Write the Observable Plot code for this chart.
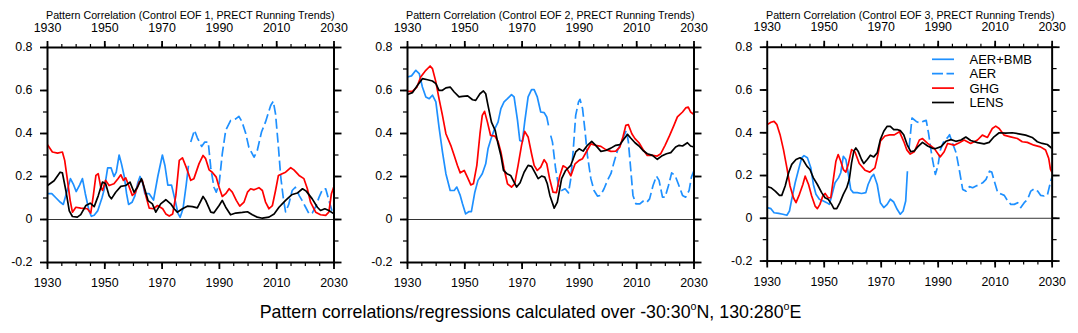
<!DOCTYPE html>
<html><head><meta charset="utf-8">
<script src="https://cdn.jsdelivr.net/npm/d3@7"></script>
<script src="https://cdn.jsdelivr.net/npm/@observablehq/plot@0.6"></script>
<style>
body{margin:0;background:#fff;font-family:"Liberation Sans",Arial,Helvetica,sans-serif;}
#wrap{position:relative;width:1078px;height:333px;overflow:hidden;background:#fff}
.panel{position:absolute;top:0}
.title{position:absolute;top:8.7px;width:400px;text-align:center;font-size:10.7px;line-height:12px;white-space:nowrap;color:#000}
.caption{position:absolute;top:301.5px;left:0;width:1061px;text-align:center;font-size:17.8px;line-height:20px;white-space:nowrap;color:#000}
.sup{font-size:0.6em;position:relative;top:-0.75em}
#legend{position:absolute;left:0;top:0}
</style>
</head><body>
<div id="wrap"></div>
<script>
// ---------- tick labels / axis values ----------
const xMajor = [1930, 1950, 1970, 1990, 2010, 2030];
const xMinor = [1930,1935,1940,1945,1950,1955,1960,1965,1970,1975,1980,1985,1990,1995,2000,2005,2010,2015,2020,2025,2030];
const yMajor = [-0.2, 0, 0.2, 0.4, 0.6, 0.8];
const yMinor = [-0.2,-0.1,0,0.1,0.2,0.3,0.4,0.5,0.6,0.7,0.8];

const titles = [
  "Pattern Correlation (Control EOF 1, PRECT Running Trends)",
  "Pattern Correlation (Control EOF 2, PRECT Running Trends)",
  "Pattern Correlation (Control EOF 3, PRECT Running Trends)"
];
const seriesNames = ["AER+BMB", "AER", "GHG", "LENS"];
const seriesColors = ["#1E90FF", "#1E90FF", "#FF0000", "#000000"];
const seriesDash = [null, "10,4", null, null];

// ---------- EOF 1 ----------
const eof1_aerbmb = [[1930,0.12],[1931.5,0.12],[1933,0.1],[1934.5,0.08],[1935.5,0.07],[1937.2,0.15],[1938,0.19],[1939,0.165],[1940,0.13],[1941.2,0.16],[1942.2,0.19],[1943.2,0.12],[1944.5,0.04],[1945.3,0.015],[1946.3,0.02],[1947.5,0.04],[1949,0.1],[1949.8,0.14],[1951,0.24],[1952.2,0.24],[1953.2,0.2],[1954,0.22],[1955,0.3],[1955.8,0.26],[1956.8,0.2],[1957.6,0.12],[1958.3,0.07],[1959.5,0.08],[1960.5,0.11],[1961.5,0.17],[1962.3,0.2],[1963.2,0.17],[1964,0.12],[1965.5,0.12],[1967,0.09],[1968.5,0.2],[1970.1,0.3],[1971,0.25],[1972,0.16],[1973.3,0.16],[1974.7,0.08],[1975.5,0.03],[1976.3,0.01],[1977.3,0.05],[1978.4,0.16],[1979.2,0.25]];
const eof1_aer = [[1980,0.36],[1981.3,0.415],[1982.3,0.38],[1983.8,0.34],[1984.9,0.36],[1986.1,0.36],[1987,0.24],[1988.1,0.15],[1988.9,0.127],[1989.9,0.166],[1991,0.305],[1992.2,0.415],[1993.9,0.46],[1995.7,0.468],[1996.8,0.48],[1997.9,0.454],[1999.2,0.4],[2000.3,0.335],[2002.1,0.29],[2003.2,0.32],[2004.7,0.407],[2006.1,0.454],[2007.9,0.53],[2008.8,0.55],[2009.6,0.49],[2010.6,0.337],[2011.4,0.2],[2012.3,0.1],[2013.1,0.035],[2014.2,0.07],[2015.4,0.135],[2016.5,0.15],[2017.9,0.11],[2018.9,0.088],[2020.1,0.057],[2021.3,0.026],[2022.4,0.03],[2023.6,0.06],[2024.8,0.104],[2026,0.14],[2027.1,0.143],[2028.2,0.09],[2029.3,0.04],[2030,0.02]];
const eof1_ghg = [[1930,0.348],[1931.7,0.314],[1933.5,0.309],[1935.2,0.314],[1936,0.275],[1937,0.18],[1937.9,0.089],[1938.7,0.034],[1939.9,0.057],[1941.6,0.053],[1943.9,0.05],[1945.1,0.03],[1946,0.112],[1946.9,0.205],[1947.7,0.213],[1948.6,0.15],[1949.2,0.135],[1950.3,0.182],[1951.5,0.158],[1953.2,0.166],[1954.6,0.19],[1955.6,0.208],[1956.5,0.182],[1957.3,0.194],[1958.1,0.166],[1959.6,0.112],[1960.6,0.124],[1962,0.174],[1963.1,0.182],[1964.3,0.112],[1965.5,0.053],[1967,0.05],[1968.4,0.065],[1970.2,0.05],[1971.3,0.026],[1972.5,0.016],[1973.7,0.026],[1974.8,0.112],[1976,0.275],[1977.1,0.287],[1978.5,0.24],[1980,0.182],[1981.1,0.19],[1982.9,0.26],[1984.3,0.298],[1985.2,0.283],[1986.4,0.231],[1987.5,0.22],[1988.9,0.197],[1989.9,0.15],[1991,0.107],[1992.2,0.12],[1993.4,0.143],[1994.5,0.127],[1995.9,0.089],[1997.1,0.062],[1998.6,0.081],[1999.8,0.127],[2000.9,0.143],[2002.1,0.138],[2003.8,0.148],[2005,0.135],[2006.1,0.081],[2007.3,0.05],[2008.5,0.065],[2009.6,0.135],[2010.6,0.205],[2011.9,0.213],[2013.1,0.22],[2014.9,0.241],[2016,0.231],[2017.8,0.205],[2019.5,0.19],[2020.7,0.143],[2021.8,0.081],[2023.6,0.034],[2025.3,0.022],[2027.1,0.019],[2028.2,0.034],[2029.1,0.12],[2030,0.154]];
const eof1_lens = [[1930,0.158],[1932.3,0.18],[1934.4,0.22],[1935.2,0.217],[1936.4,0.135],[1937.6,0.04],[1938.7,0.014],[1940.4,0.011],[1941.6,0.023],[1943.4,0.065],[1944.9,0.076],[1946.3,0.06],[1947.7,0.11],[1949.2,0.174],[1950.3,0.166],[1951.5,0.11],[1952.3,0.096],[1953.8,0.127],[1955.6,0.154],[1957.3,0.158],[1958.8,0.174],[1960.2,0.127],[1961.4,0.15],[1962.8,0.19],[1963.9,0.143],[1965.1,0.088],[1966.6,0.073],[1967.8,0.034],[1969.5,0.073],[1971.3,0.092],[1973,0.073],[1974.2,0.05],[1975.3,0.034],[1977.1,0.05],[1978.8,0.062],[1980.6,0.06],[1982.3,0.054],[1984.3,0.107],[1985.2,0.089],[1987,0.034],[1988.1,0.031],[1989.9,0.065],[1991,0.089],[1992.2,0.057],[1993.9,0.022],[1995.7,0.03],[1998,0.033],[1999.8,0.036],[2001.5,0.022],[2003.2,0.011],[2005,0.006],[2007.3,0.011],[2009.1,0.026],[2010.8,0.057],[2013.1,0.089],[2015.2,0.115],[2017.2,0.123],[2019,0.143],[2020.3,0.132],[2022.4,0.096],[2024.2,0.057],[2025.3,0.042],[2026.8,0.05],[2028.2,0.042],[2030,0.026]];

// ---------- EOF 2 ----------
const eof2_aerbmb = [[1930,0.663],[1931.4,0.668],[1932.9,0.694],[1934.1,0.679],[1935.2,0.616],[1936.4,0.57],[1937.6,0.562],[1938.7,0.578],[1939.9,0.547],[1941,0.43],[1942.2,0.314],[1943.4,0.213],[1944.9,0.135],[1946.3,0.135],[1947.2,0.151],[1948.4,0.112],[1949.2,0.073],[1950.3,0.026],[1951.5,0.037],[1952.3,0.037],[1953.5,0.127],[1954.6,0.182],[1956.1,0.213],[1957.3,0.259],[1958.1,0.329],[1959.1,0.373],[1960.2,0.415],[1961.6,0.453],[1962.6,0.516],[1963.7,0.547],[1964.9,0.562],[1966.3,0.581],[1967.2,0.57],[1968.4,0.461],[1969.2,0.368],[1970.1,0.363],[1970.9,0.453],[1972.1,0.57],[1973.3,0.604],[1974.2,0.604],[1975.3,0.57],[1976.5,0.5],[1977.7,0.497],[1978.6,0.477],[1979.2,0.438]];
const eof2_aer = [[1980,0.39],[1980.6,0.36],[1981.7,0.236],[1982.7,0.158],[1983.8,0.135],[1985,0.143],[1986.2,0.124],[1987,0.19],[1987.8,0.314],[1988.7,0.484],[1989.7,0.547],[1990.2,0.559],[1991.1,0.516],[1992,0.407],[1992.8,0.298],[1994,0.19],[1995.1,0.135],[1996.3,0.109],[1997.4,0.112],[1998.6,0.143],[1999.8,0.182],[2001,0.213],[2002.1,0.267],[2003.3,0.321],[2004.4,0.352],[2005.6,0.391],[2006.4,0.415],[2007.1,0.36],[2007.9,0.236],[2008.7,0.112],[2009.7,0.073],[2011.1,0.073],[2012.2,0.085],[2013.4,0.078],[2014.5,0.096],[2015.7,0.158],[2016.9,0.202],[2017.8,0.182],[2019,0.104],[2019.9,0.104],[2021.1,0.158],[2022.2,0.217],[2023.4,0.205],[2024.5,0.166],[2026,0.112],[2027.1,0.104],[2028.3,0.135],[2029.1,0.197],[2030,0.228]];
const eof2_ghg = [[1930,0.596],[1931.7,0.596],[1933.3,0.616],[1934.6,0.663],[1936.4,0.694],[1937.9,0.714],[1938.7,0.702],[1939.9,0.64],[1941,0.562],[1942.2,0.484],[1943.4,0.399],[1945.1,0.345],[1946.3,0.298],[1947.4,0.252],[1948.4,0.217],[1949.8,0.228],[1950.9,0.197],[1952.1,0.161],[1953,0.166],[1954.2,0.252],[1955.3,0.399],[1956.1,0.484],[1956.9,0.503],[1957.9,0.453],[1959,0.391],[1960.5,0.388],[1961.6,0.363],[1962.6,0.314],[1963.7,0.236],[1964.9,0.166],[1966.3,0.151],[1967.4,0.166],[1968.6,0.252],[1969.8,0.345],[1970.9,0.41],[1972.1,0.384],[1973.3,0.306],[1974.2,0.252],[1975.3,0.228],[1976.5,0.244],[1977.7,0.278],[1978.6,0.26],[1979.6,0.19],[1980.8,0.127],[1982,0.125],[1983.1,0.2],[1984.3,0.25],[1985.5,0.24],[1987,0.203],[1988.5,0.259],[1989.9,0.275],[1991.1,0.283],[1992.4,0.314],[1994,0.352],[1995.7,0.345],[1997.5,0.34],[1999.2,0.325],[2001,0.317],[2002.7,0.318],[2004.1,0.337],[2005.2,0.384],[2006.2,0.438],[2007.1,0.441],[2008.3,0.399],[2009.4,0.376],[2010.8,0.357],[2012.2,0.326],[2013.7,0.298],[2015.5,0.298],[2017.2,0.295],[2018.4,0.306],[2019.9,0.345],[2021.5,0.391],[2023,0.438],[2024.2,0.477],[2026,0.5],[2027.1,0.519],[2028,0.523],[2028.8,0.5],[2030,0.488]];
const eof2_lens = [[1930,0.581],[1931.7,0.59],[1933.5,0.624],[1935.2,0.655],[1937,0.65],[1938.7,0.644],[1939.9,0.632],[1941,0.601],[1942.2,0.601],[1943.4,0.612],[1944.9,0.616],[1946.3,0.593],[1948,0.57],[1949.2,0.573],[1951,0.575],[1952.7,0.557],[1953.8,0.554],[1955.3,0.585],[1956.5,0.598],[1957.3,0.585],[1958.1,0.531],[1959.3,0.453],[1960.6,0.415],[1961.6,0.352],[1962.6,0.298],[1963.5,0.228],[1964.7,0.213],[1966,0.205],[1967.2,0.174],[1968.1,0.151],[1969.3,0.171],[1970.7,0.22],[1972.1,0.252],[1973.3,0.247],[1974.4,0.22],[1975.6,0.19],[1976.8,0.202],[1977.9,0.197],[1978.8,0.166],[1979.7,0.112],[1981.2,0.053],[1982.3,0.081],[1983.8,0.19],[1985.2,0.228],[1987,0.252],[1988.7,0.314],[1989.9,0.329],[1991.3,0.318],[1992.8,0.345],[1994.3,0.363],[1995.7,0.345],[1997.5,0.317],[1999.2,0.321],[2001,0.332],[2002.7,0.345],[2004.1,0.348],[2005.6,0.376],[2006.8,0.396],[2007.9,0.379],[2009.4,0.357],[2010.8,0.342],[2012.2,0.321],[2013.7,0.306],[2015.5,0.298],[2017.2,0.28],[2018.7,0.295],[2020.4,0.306],[2021.9,0.311],[2023.6,0.337],[2024.8,0.345],[2026,0.342],[2027.7,0.357],[2028.8,0.342],[2030,0.337]];

// ---------- EOF 3 ----------
const eof3_aerbmb = [[1930,0.05],[1931.3,0.045],[1932.4,0.026],[1934,0.023],[1935.5,0.019],[1936.9,0.014],[1937.8,0.034],[1938.6,0.089],[1939.8,0.166],[1941,0.228],[1942.1,0.283],[1942.9,0.293],[1944.1,0.283],[1945.3,0.236],[1946.2,0.158],[1947.1,0.112],[1948.3,0.089],[1949.7,0.081],[1950.9,0.073],[1951.8,0.065],[1952.6,0.104],[1953.8,0.166],[1955,0.189],[1955.8,0.213],[1956.7,0.29],[1957.6,0.275],[1958.4,0.213],[1959.3,0.135],[1960.2,0.12],[1961.6,0.12],[1963.1,0.116],[1964.6,0.12],[1965.4,0.158],[1966.6,0.194],[1967.4,0.205],[1968.6,0.158],[1969.7,0.073],[1970.9,0.05],[1972.1,0.065],[1973.2,0.089],[1974.4,0.076],[1975.6,0.042],[1976.7,0.019],[1977.7,0.034],[1978.6,0.081],[1979.2,0.22]];
const eof3_aer = [[1979.8,0.33],[1980.8,0.469],[1982.3,0.453],[1983.5,0.446],[1984.7,0.453],[1985.8,0.458],[1986.6,0.399],[1987.8,0.29],[1989,0.205],[1989.9,0.244],[1990.8,0.321],[1992,0.36],[1993.2,0.376],[1994,0.391],[1995.2,0.345],[1996.3,0.306],[1997.5,0.22],[1998.6,0.135],[1999.8,0.127],[2001,0.148],[2002.1,0.143],[2003.3,0.151],[2004.5,0.158],[2005.6,0.166],[2006.8,0.182],[2008,0.22],[2008.8,0.216],[2009.7,0.174],[2010.9,0.12],[2012.3,0.112],[2013.2,0.107],[2014.4,0.081],[2015.5,0.065],[2016.7,0.065],[2017.9,0.073],[2019,0.05],[2020.2,0.073],[2021.4,0.089],[2022.5,0.127],[2023.7,0.138],[2024.9,0.127],[2026,0.107],[2027.2,0.104],[2028.3,0.107],[2029.5,0.174],[2030,0.194]];
const eof3_ghg = [[1930,0.438],[1931.3,0.449],[1932.4,0.453],[1933.4,0.438],[1934.5,0.391],[1935.7,0.321],[1936.9,0.236],[1938,0.151],[1939.2,0.096],[1940.1,0.073],[1941.3,0.112],[1942.5,0.158],[1943.3,0.197],[1944.5,0.158],[1945.6,0.104],[1946.8,0.057],[1947.6,0.045],[1948.5,0.065],[1949.5,0.104],[1950.3,0.116],[1951.4,0.096],[1952.3,0.096],[1953.2,0.182],[1954.1,0.267],[1954.9,0.298],[1955.8,0.267],[1956.7,0.228],[1957.6,0.216],[1958.4,0.25],[1959.6,0.321],[1960.8,0.31],[1962.3,0.256],[1964.3,0.225],[1966,0.216],[1967.8,0.236],[1968.9,0.3],[1969.7,0.36],[1971.3,0.385],[1973,0.39],[1974.6,0.39],[1976.4,0.405],[1977.9,0.36],[1979,0.32],[1980.2,0.3],[1981.6,0.311],[1983.4,0.366],[1984.5,0.373],[1986.3,0.35],[1988.6,0.327],[1990.7,0.287],[1992.1,0.311],[1993.3,0.35],[1995.6,0.342],[1997.4,0.353],[1999.1,0.366],[2001.4,0.35],[2003.8,0.366],[2005.5,0.389],[2007.3,0.378],[2009,0.42],[2010.2,0.431],[2011.4,0.42],[2013.1,0.389],[2015.4,0.381],[2017.8,0.373],[2019.5,0.358],[2021.3,0.355],[2023.6,0.342],[2025.9,0.334],[2027.7,0.319],[2028.8,0.28],[2029.4,0.23],[2030,0.213]];
const eof3_lens = [[1930,0.148],[1931.3,0.143],[1932.8,0.127],[1934.3,0.107],[1935.1,0.107],[1936.3,0.151],[1937.5,0.213],[1938.6,0.252],[1940.1,0.275],[1941.5,0.283],[1942.5,0.275],[1943.9,0.244],[1945,0.228],[1946.2,0.189],[1947.6,0.158],[1949.1,0.12],[1950.3,0.096],[1951.4,0.089],[1952.6,0.065],[1953.4,0.045],[1954.4,0.045],[1955.5,0.073],[1956.7,0.112],[1957.9,0.143],[1958.8,0.182],[1959.6,0.259],[1960.4,0.314],[1961.1,0.329],[1961.9,0.314],[1963.1,0.275],[1963.9,0.256],[1965.1,0.275],[1966.2,0.295],[1967.4,0.287],[1968.6,0.306],[1969.7,0.368],[1970.9,0.407],[1972.1,0.43],[1973.2,0.43],[1974.4,0.415],[1975.6,0.415],[1976.7,0.41],[1977.9,0.391],[1979.1,0.345],[1980.4,0.311],[1981.6,0.315],[1982.8,0.334],[1984.5,0.355],[1986.3,0.338],[1988,0.327],[1989.2,0.326],[1991,0.335],[1992.7,0.36],[1994.5,0.368],[1996.2,0.36],[1998,0.366],[1999.7,0.38],[2001.4,0.364],[2003.8,0.354],[2006.1,0.348],[2007.9,0.355],[2009.6,0.381],[2011.4,0.4],[2013.7,0.398],[2016,0.4],[2018.3,0.395],[2020.7,0.389],[2023,0.378],[2024.8,0.358],[2026.5,0.35],[2028.3,0.345],[2030,0.326]];

const panels = [
  [eof1_aerbmb, eof1_aer, eof1_ghg, eof1_lens],
  [eof2_aerbmb, eof2_aer, eof2_ghg, eof2_lens],
  [eof3_aerbmb, eof3_aer, eof3_ghg, eof3_lens]
];

// ---------- layout ----------
const PW = 360, PH = 300, ML = 47, MR = 26.5, MT = 47, MB = 38;
const panelLeft = [0, 360, 720];
const FONT = '"Liberation Sans", Arial, Helvetica, sans-serif';
const yFmt = d => d === 0 ? "0" : d.toFixed(1);

const wrap = document.getElementById("wrap");

panels.forEach((series, i) => {
  const lineMarks = series.map((data, k) => Plot.line(data, {
    x: d => d[0], y: d => d[1],
    stroke: seriesColors[k], strokeWidth: 1.7,
    strokeDasharray: seriesDash[k] || undefined,
    strokeLinejoin: "round", strokeLinecap: "butt", clip: true
  }));
  const chart = Plot.plot({
    width: PW, height: PH,
    marginLeft: ML, marginRight: MR, marginTop: MT, marginBottom: MB,
    x: {domain: [1930, 2030], label: null},
    y: {domain: [-0.2, 0.8], label: null},
    style: {fontFamily: FONT, fontSize: "12.4px", background: "transparent", color: "#000", overflow: "visible"},
    marks: [
      Plot.ruleY([0], {stroke: "#333", strokeWidth: 1}),
      ...lineMarks,
      // major ticks with labels
      Plot.axisX({anchor: "bottom", ticks: xMajor, tickSize: 7, tickPadding: 9, tickFormat: d => String(d), strokeWidth: 1.8, label: null, fontSize: 12.4}),
      Plot.axisX({anchor: "top", ticks: xMajor, tickSize: 7, tickPadding: 9, tickFormat: d => String(d), strokeWidth: 1.8, label: null, fontSize: 12.4}),
      Plot.axisY({anchor: "left", ticks: yMajor, tickSize: 7, tickPadding: 8, tickFormat: yFmt, strokeWidth: 1.8, label: null, fontSize: 12.4}),
      Plot.axisY({anchor: "right", ticks: yMajor, tickSize: 7, tickFormat: () => "", strokeWidth: 1.8, label: null}),
      // minor ticks
      Plot.axisX({anchor: "bottom", ticks: xMinor, tickSize: 4, tickFormat: () => "", strokeWidth: 1.2, label: null}),
      Plot.axisX({anchor: "top", ticks: xMinor, tickSize: 4, tickFormat: () => "", strokeWidth: 1.2, label: null}),
      Plot.axisY({anchor: "left", ticks: yMinor, tickSize: 4, tickFormat: () => "", strokeWidth: 1.2, label: null}),
      Plot.axisY({anchor: "right", ticks: yMinor, tickSize: 4, tickFormat: () => "", strokeWidth: 1.2, label: null}),
      Plot.frame({stroke: "#000", strokeWidth: 2})
    ]
  });
  const holder = document.createElement("div");
  holder.className = "panel";
  holder.style.left = panelLeft[i] + "px";
  holder.appendChild(chart);
  wrap.appendChild(holder);

  const t = document.createElement("div");
  t.className = "title";
  t.style.left = (panelLeft[i] + ML + (PW - ML - MR) / 2 - 200) + "px";
  t.textContent = titles[i];
  wrap.appendChild(t);
});

// caption
const cap = document.createElement("div");
cap.className = "caption";
cap.innerHTML = 'Pattern correlations/regressions calculated over -30:30<span class="sup">o</span>N, 130:280<span class="sup">o</span>E';
wrap.appendChild(cap);

// legend (inside panel 3)
const svgNS = "http://www.w3.org/2000/svg";
const leg = document.createElementNS(svgNS, "svg");
leg.setAttribute("id", "legend");
leg.setAttribute("width", 1078);
leg.setAttribute("height", 333);
const legX0 = 932, legX1 = 954, legTX = 969.5, legY0 = 59.3, legDY = 14.4;
seriesNames.forEach((name, k) => {
  const y = legY0 + k * legDY;
  const ln = document.createElementNS(svgNS, "line");
  ln.setAttribute("x1", legX0); ln.setAttribute("x2", legX1);
  ln.setAttribute("y1", y); ln.setAttribute("y2", y);
  ln.setAttribute("stroke", seriesColors[k]);
  ln.setAttribute("stroke-width", 1.7);
  if (seriesDash[k]) ln.setAttribute("stroke-dasharray", "11,3.5");
  leg.appendChild(ln);
  const tx = document.createElementNS(svgNS, "text");
  tx.setAttribute("x", legTX); tx.setAttribute("y", y + 4.6);
  tx.setAttribute("font-family", FONT);
  tx.setAttribute("font-size", "13");
  tx.setAttribute("fill", "#000");
  tx.textContent = name;
  leg.appendChild(tx);
});
wrap.appendChild(leg);
</script>
</body></html>
